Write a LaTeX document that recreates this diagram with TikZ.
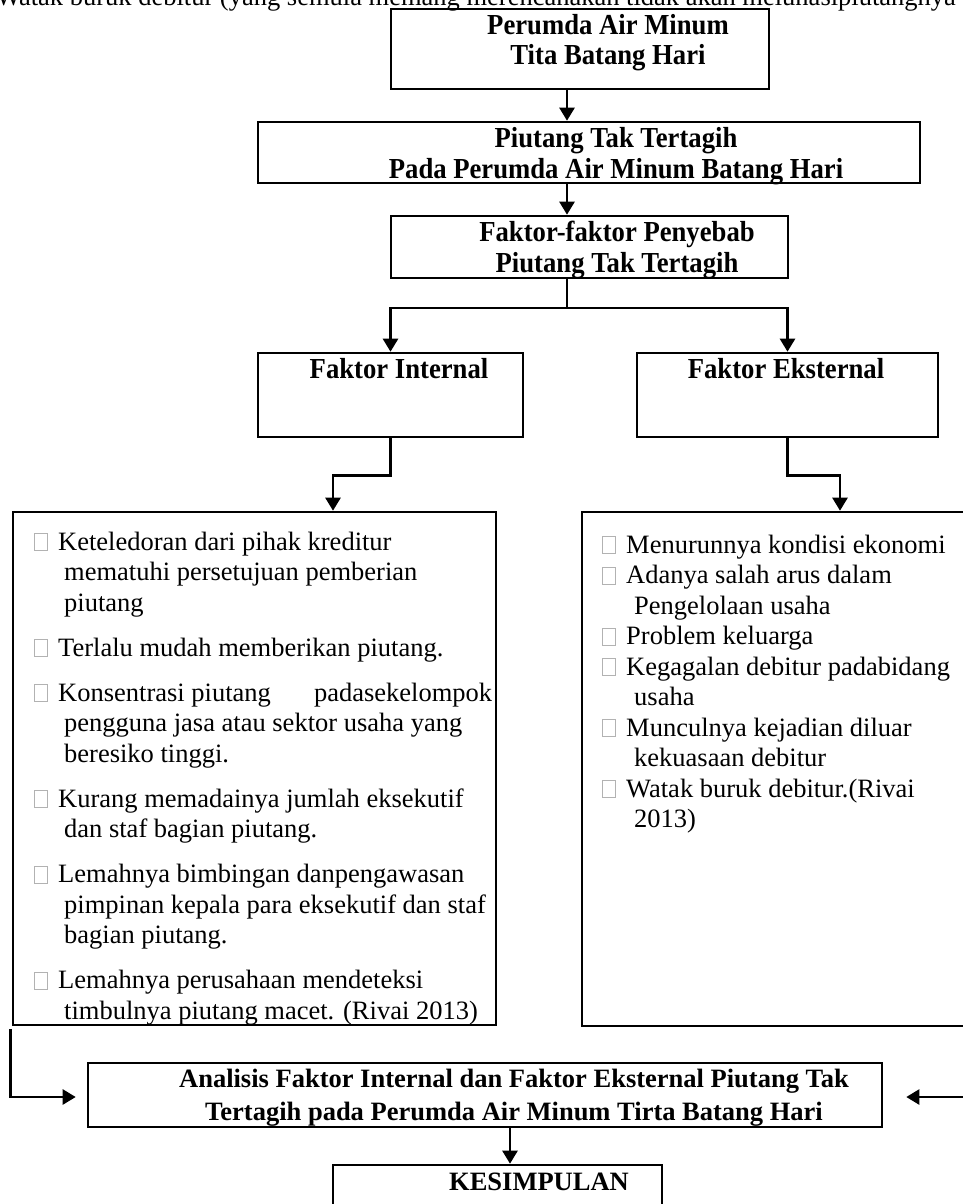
\documentclass[tikz,border=0pt]{standalone}
\usepackage{fontspec}
\setmainfont{Liberation Serif}
\newfontfamily\titlefont[FakeStretch=0.92]{Liberation Serif}
\usetikzlibrary{arrows.meta,positioning,calc}

% empty square bullet of the lists
\newcommand{\bx}{\makebox[24pt][l]{\textcolor{black!30}{\setlength{\fboxrule}{0.8pt}\setlength{\fboxsep}{0pt}\fbox{\rule{0pt}{16pt}\rule{12pt}{0pt}}}}}

\tikzset{
  box/.style={draw, line width=2.6pt, inner sep=0pt},
  ttl/.style={font=\titlefont\bfseries\fontsize{29}{30.5}\selectfont, align=center, inner sep=0pt, anchor=base},
  bold/.style={font=\bfseries\fontsize{26.5}{33}\selectfont, align=center, inner sep=0pt, anchor=base},
  list/.style={font=\fontsize{26.5}{30.5}\selectfont, align=left, inner sep=0pt, anchor=base west},
  arr/.style={line width=2.5pt, -{Triangle[length=13pt,width=15pt]}},
}

\begin{document}
\begin{tikzpicture}[x=1pt,y=-1pt]

\useasboundingbox (0,0) rectangle (963,1204);
\clip (0,0) rectangle (963,1204);

% Text line cut off at the top
\node[list] (cut) at (-4,6) {Watak buruk debitur (yang semula memang merencanakan tidak akan melunasipiutangnya};

% Main chain (multi-line texts sit on their last baseline)
\node[box, minimum width=378pt, minimum height=80pt] (firm) at (580,49) {};
\node[ttl] (firmtxt) at (608,65) {Perumda Air Minum\\Tita Batang Hari};

\node[box, minimum width=662pt, minimum height=61pt] (piutang) at (589,152.5) {};
\node[ttl] (piutangtxt) at (616,178) {Piutang Tak Tertagih\\Pada Perumda Air Minum Batang Hari};

\node[box, minimum width=397pt, minimum height=62pt] (faktor) at (589.5,247) {};
\node[ttl] (faktortxt) at (617,272) {Faktor-faktor Penyebab\\Piutang Tak Tertagih};

% Internal / external
\node[box, minimum width=265pt, minimum height=84pt] (fint) at (390.5,395) {};
\node[ttl] (finttxt) at (399,378) {Faktor Internal};

\node[box, minimum width=301pt, minimum height=84pt] (fext) at (787.5,395) {};
\node[ttl] (fexttxt) at (786,378) {Faktor Eksternal};

% Lists of causes
\node[box, minimum width=483pt, minimum height=513pt] (lint) at (254.5,768.5) {};
\node[list] (linttxt) at (34,1019) {\bx Keteledoran dari pihak kreditur\\
  \hspace*{30pt}mematuhi persetujuan pemberian\\
  \hspace*{30pt}piutang\\[14.5pt]
  \bx Terlalu mudah memberikan piutang.\\[14.5pt]
  \bx\makebox[434pt][l]{Konsentrasi piutang\hfill padasekelompok}\\
  \hspace*{30pt}pengguna jasa atau sektor usaha yang\\
  \hspace*{30pt}beresiko tinggi.\\[14.5pt]
  \bx Kurang memadainya jumlah eksekutif\\
  \hspace*{30pt}dan staf bagian piutang.\\[14.5pt]
  \bx Lemahnya bimbingan danpengawasan\\
  \hspace*{30pt}pimpinan kepala para eksekutif dan staf\\
  \hspace*{30pt}bagian piutang.\\[14.5pt]
  \bx Lemahnya perusahaan mendeteksi\\
  \hspace*{30pt}timbulnya piutang macet. (Rivai 2013)};

\node[box, minimum width=398pt, minimum height=514pt] (lext) at (781,769) {};
\node[list] (lexttxt) at (602,827.5) {\bx Menurunnya kondisi ekonomi\\
  \bx Adanya salah arus dalam\\
  \hspace*{32pt}Pengelolaan usaha\\
  \bx Problem keluarga\\
  \bx Kegagalan debitur padabidang\\
  \hspace*{32pt}usaha\\
  \bx Munculnya kejadian diluar\\
  \hspace*{32pt}kekuasaan debitur\\
  \bx Watak buruk debitur.(Rivai\\
  \hspace*{32pt}2013)};

% Analysis and conclusion
\node[box, minimum width=794pt, minimum height=64pt] (anal) at (485,1095) {};
\node[bold] (analtxt) at (514,1120) {Analisis Faktor Internal dan Faktor Eksternal Piutang Tak\\Tertagih pada Perumda Air Minum Tirta Batang Hari};

\node[box, minimum width=329pt, minimum height=65pt] (kes) at (497.5,1197.5) {};
\node[bold] (kestxt) at (539,1190) {KESIMPULAN};

% Connectors
\coordinate (spine) at (567,0);
\coordinate (sink) at (510,0);
\coordinate (fork) at (567,308);

\draw[arr] (firm.south -| spine) -- (piutang.north -| spine);
\draw[arr] (piutang.south -| spine) -- (faktor.north -| spine);
\draw[line width=1.4pt] (faktor.south -| spine) -- (fork);
\draw[arr] (fork) -| (fint.north);
\draw[arr] (fork) -| (fext.north);

\draw[arr] (fint.south) -- ++(0,37) -| ([xshift=78.5pt]lint.north);
\draw[arr] (fext.south) -- ++(0,37) -| ([xshift=59pt]lext.north);

\draw[arr] ([xshift=-1pt,yshift=-3pt]lint.south west) |- ([xshift=-11pt,yshift=-2pt]anal.west);
\draw[arr] ([xshift=-12pt]lext.south east) |- ([xshift=23pt,yshift=-2pt]anal.east);
\draw[arr] (anal.south -| sink) -- (kes.north -| sink);

\end{tikzpicture}
\end{document}
